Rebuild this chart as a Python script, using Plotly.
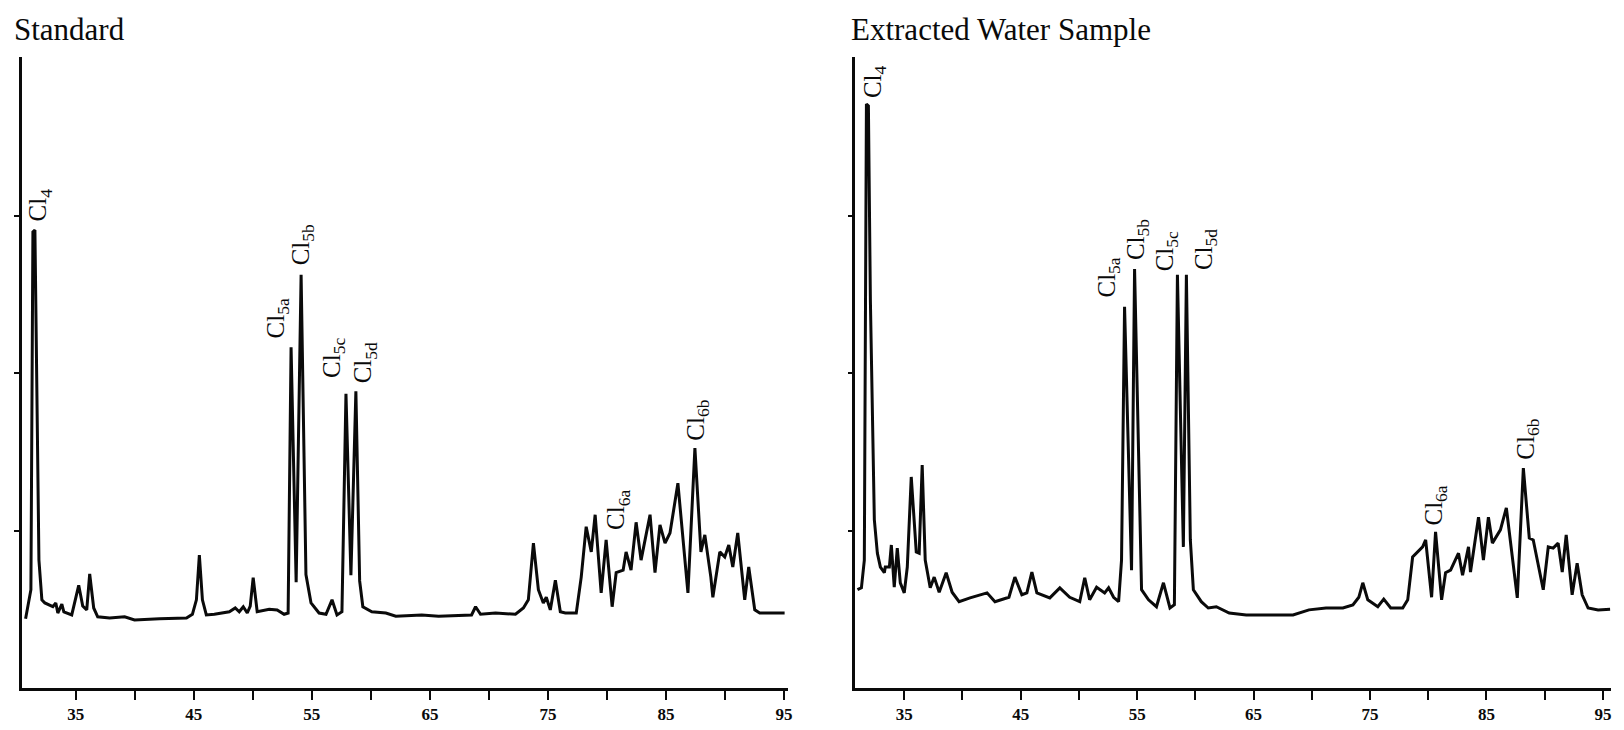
import plotly.graph_objects as go

# ---------------- data (retention time in min, detector signal in arbitrary units) -------------
std_time = [30.75, 31.20, 31.37, 31.54, 31.88, 32.13, 32.38, 33.06, 33.31, 33.48, 33.82, 33.99,
            34.66, 35.25, 35.59, 35.93, 36.18, 36.52, 36.86, 37.87, 39.14, 39.98, 42.09, 44.38,
            44.88, 45.22, 45.47, 45.73, 46.06, 46.74, 48.01, 48.51, 48.85, 49.19, 49.53, 49.78,
            50.03, 50.37, 51.39, 52.06, 52.65, 52.99, 53.24, 53.67, 54.09, 54.50, 54.93, 55.61,
            56.20, 56.71, 57.13, 57.55, 57.89, 58.31, 58.73, 59.05, 59.32, 60.08, 61.27, 62.11,
            64.31, 65.74, 68.53, 68.87, 69.29, 70.56, 72.25, 72.92, 73.34, 73.77, 74.19, 74.61,
            74.86, 75.20, 75.63, 76.05, 76.47, 77.40, 77.82, 78.24, 78.67, 79.00, 79.51, 79.93,
            80.44, 80.78, 81.37, 81.62, 82.04, 82.47, 82.89, 83.65, 84.07, 84.49, 84.92, 85.34,
            86.01, 86.86, 87.45, 87.96, 88.29, 88.80, 88.97, 89.56, 89.98, 90.32, 90.66, 91.08,
            91.67, 92.01, 92.52, 92.94, 95.05]
std_signal = [11.0, 15.6, 72.4, 72.7, 20.3, 14.0, 13.5, 12.9, 13.5, 11.9, 13.3, 12.1,
              11.6, 16.3, 13.0, 12.4, 18.1, 12.7, 11.3, 11.1, 11.3, 10.8, 11.0, 11.1,
              11.7, 14.0, 21.1, 14.0, 11.6, 11.7, 12.1, 12.7, 12.1, 12.9, 11.9, 13.0,
              17.5, 12.1, 12.5, 12.4, 11.7, 11.9, 54.1, 16.8, 65.6, 18.0, 13.5, 11.9,
              11.7, 14.0, 11.6, 12.1, 46.7, 17.9, 47.1, 17.0, 12.9, 12.1, 11.9, 11.4,
              11.6, 11.4, 11.6, 12.9, 11.7, 11.9, 11.7, 12.7, 14.0, 23.0, 15.6, 13.5,
              14.4, 12.4, 17.1, 12.1, 11.9, 11.9, 17.6, 25.6, 21.6, 27.5, 15.1, 23.5,
              12.9, 18.3, 18.7, 21.6, 18.7, 26.3, 20.3, 27.5, 18.3, 25.9, 23.0, 24.6,
              32.5, 15.1, 38.1, 21.6, 24.3, 17.6, 14.4, 21.6, 20.8, 22.7, 19.2, 24.6,
              14.0, 19.2, 12.4, 11.9, 11.9]

water_time = [30.98, 31.32, 31.57, 31.75, 31.92, 32.09, 32.43, 32.69, 32.95, 33.29, 33.37, 33.72,
              33.89, 34.14, 34.40, 34.66, 35.00, 35.26, 35.60, 35.86, 36.03, 36.28, 36.54, 36.80,
              37.23, 37.57, 38.00, 38.60, 39.11, 39.71, 40.65, 42.11, 42.79, 43.99, 44.50, 45.10,
              45.53, 45.96, 46.39, 47.50, 48.36, 49.21, 50.07, 50.50, 50.92, 51.52, 52.21, 52.55,
              52.98, 53.41, 53.66, 53.92, 54.52, 54.78, 55.38, 55.98, 56.66, 57.26, 57.82, 58.20,
              58.46, 58.97, 59.23, 59.57, 59.83, 60.51, 61.11, 61.80, 62.91, 64.37, 66.68, 68.39,
              69.76, 71.22, 72.67, 73.53, 74.04, 74.38, 74.81, 75.67, 76.18, 76.78, 77.81, 78.24,
              78.66, 79.09, 79.52, 79.78, 80.29, 80.63, 81.15, 81.49, 81.92, 82.60, 82.95, 83.46,
              83.63, 84.32, 84.74, 85.17, 85.51, 86.20, 86.71, 87.65, 88.17, 88.68, 89.02, 89.88,
              90.31, 90.73, 91.16, 91.51, 91.85, 92.36, 92.79, 93.22, 93.73, 94.59, 95.62]
water_signal = [15.6, 15.9, 20.3, 92.7, 92.4, 61.6, 26.7, 21.4, 19.2, 18.3, 19.2, 19.2,
                22.7, 16.0, 22.2, 16.7, 15.1, 19.2, 33.5, 26.2, 21.6, 21.4, 35.4, 20.3,
                15.9, 17.6, 15.2, 18.3, 15.2, 13.7, 14.3, 15.1, 13.7, 14.4, 17.6, 14.8,
                15.1, 18.4, 15.1, 14.3, 15.9, 14.4, 13.7, 17.5, 14.0, 16.0, 15.1, 15.9,
                14.4, 13.7, 20.3, 60.5, 18.7, 66.5, 15.6, 14.0, 12.9, 16.7, 12.7, 13.2,
                65.6, 22.4, 65.6, 23.5, 15.6, 13.7, 12.7, 12.9, 11.9, 11.6, 11.6, 11.6,
                12.4, 12.7, 12.7, 13.2, 14.4, 16.7, 14.0, 12.9, 14.1, 12.7, 12.7, 14.0,
                20.8, 21.6, 22.4, 23.5, 14.4, 24.8, 14.0, 18.3, 18.7, 21.4, 17.9, 22.4,
                18.4, 27.1, 20.3, 27.1, 23.0, 25.1, 28.6, 14.3, 34.9, 23.8, 23.5, 15.6,
                22.4, 22.2, 23.0, 18.4, 24.3, 14.8, 19.8, 14.8, 12.7, 12.4, 12.5]

label_ticks = [35, 45, 55, 65, 75, 85, 95]
tick_labels = ["35", "45", "55", "65", "75", "85", "95"]

panel_titles = ["Standard", "Extracted Water Sample"]

# peak labels: (text, retention time, signal) for each panel
std_peaks = [("Cl<sub>4</sub>", 31.96, 73.8), ("Cl<sub>5a</sub>", 52.06, 55.2),
             ("Cl<sub>5b</sub>", 54.17, 66.7), ("Cl<sub>5c</sub>", 56.88, 48.9),
             ("Cl<sub>5d</sub>", 59.49, 48.1), ("Cl<sub>6a</sub>", 80.95, 24.8),
             ("Cl<sub>6b</sub>", 87.70, 39.0)]
water_peaks = [("Cl<sub>4</sub>", 32.43, 93.3), ("Cl<sub>5a</sub>", 52.55, 61.6),
               ("Cl<sub>5b</sub>", 55.03, 67.6), ("Cl<sub>5c</sub>", 57.52, 65.9),
               ("Cl<sub>5d</sub>", 60.86, 66.0), ("Cl<sub>6a</sub>", 80.63, 25.4),
               ("Cl<sub>6b</sub>", 88.51, 35.9)]

# ---------------- figure ----------------
W, H = 1624, 730
SERIF = "Liberation Serif, Times New Roman, serif"
INK = "#0a0a0a"

fig = go.Figure()
fig.add_trace(go.Scatter(x=std_time, y=std_signal, mode="lines", xaxis="x", yaxis="y",
                         line=dict(color=INK, width=3), hoverinfo="skip"))
fig.add_trace(go.Scatter(x=water_time, y=water_signal, mode="lines", xaxis="x2", yaxis="y2",
                         line=dict(color=INK, width=3), hoverinfo="skip"))

def xaxis_cfg(domain, rng, anchor):
    return dict(domain=domain, range=rng, anchor=anchor, showline=True, linecolor=INK,
                linewidth=2.5, showgrid=False, zeroline=False, ticks="outside", ticklen=9,
                tickwidth=2, tickcolor=INK, tickvals=label_ticks, ticktext=tick_labels,
                minor=dict(ticks="outside", ticklen=9, tickwidth=2, tickcolor=INK,
                           tick0=35, dtick=5, showgrid=False),
                tickfont=dict(family=SERIF, size=17, color=INK, weight="bold"),
                fixedrange=True)

def yaxis_cfg(anchor):
    return dict(domain=[1 - 688 / H, 1 - 57 / H], range=[0, 100.16], anchor=anchor,
                showline=True, linecolor=INK, linewidth=2.5, showgrid=False, zeroline=False,
                ticks="", showticklabels=False,
                minor=dict(ticks="outside", ticklen=5, tickwidth=1.5, tickcolor=INK,
                           tick0=25, dtick=25, showgrid=False),
                fixedrange=True)

annotations = []
for title, xp in zip(panel_titles, [12, 852]):
    annotations.append(dict(text=title, x=xp / W, y=1 - 29 / H, xref="paper", yref="paper",
                            xanchor="left", yanchor="middle", showarrow=False,
                            font=dict(family=SERIF, size=31, color=INK)))
for peaks, xr, yr in [(std_peaks, "x", "y"), (water_peaks, "x2", "y2")]:
    for txt, t, s in peaks:
        annotations.append(dict(text=txt, x=t, y=s, xref=xr, yref=yr, textangle=-90,
                                xanchor="center", yanchor="bottom", showarrow=False,
                                font=dict(family=SERIF, size=25, color=INK)))

fig.update_layout(
    width=W, height=H, margin=dict(l=0, r=0, t=0, b=0),
    paper_bgcolor="white", plot_bgcolor="white", showlegend=False,
    xaxis=xaxis_cfg([22 / W, 790 / W], [30.44, 95.30], "y"),
    yaxis=yaxis_cfg("x"),
    xaxis2=xaxis_cfg([858 / W, 1616 / W], [30.80, 95.70], "y2"),
    yaxis2=yaxis_cfg("x2"),
    annotations=annotations,
)

fig.write_html("out.html")
